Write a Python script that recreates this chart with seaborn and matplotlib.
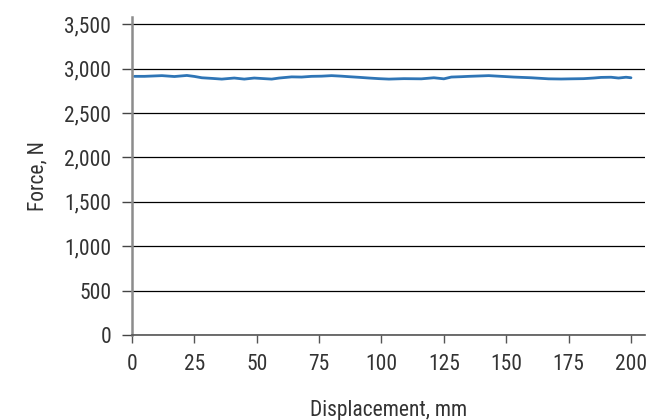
import matplotlib
matplotlib.use("Agg")
import matplotlib.pyplot as plt
import matplotlib.ticker as mticker
import seaborn as sns

# Displacement (mm) and force (N)
displacement = [1, 5, 12, 17, 22, 25, 28, 32, 36, 41, 45, 49, 53, 56, 59, 64,
                68, 72, 76, 80, 84, 87, 91, 95, 99, 103, 109, 116, 121, 125,
                128, 132, 135, 139, 143, 148, 153, 160, 167, 172, 176, 181,
                185, 188, 192, 195, 198, 200]
force = [2912, 2912, 2920, 2910, 2922, 2911, 2896, 2889, 2881, 2893, 2881,
         2893, 2886, 2881, 2893, 2906, 2904, 2912, 2914, 2920, 2914, 2908,
         2901, 2893, 2886, 2881, 2886, 2884, 2896, 2884, 2904, 2908, 2912,
         2916, 2920, 2912, 2904, 2896, 2884, 2882, 2884, 2886, 2893, 2900,
         2902, 2893, 2902, 2896]

x_ticks = [0, 25, 50, 75, 100, 125, 150, 175, 200]
y_ticks = [0, 500, 1000, 1500, 2000, 2500, 3000, 3500]

sns.set_theme(style="white")
plt.rcParams['font.family'] = ['Roboto Condensed', 'Roboto', 'DejaVu Sans']
text_col = "#333333"
fs = 15.5

fig = plt.figure(figsize=(6.46, 4.2), dpi=100)
ax = fig.add_axes([0.2043, 0.2024, 0.7937, 0.7571])

sns.lineplot(x=displacement, y=force, ax=ax, color="#2E75B6", linewidth=2.0)

ax.set_xlim(0, 205.5)
ax.set_ylim(0, 3580)
ax.set_xticks(x_ticks)
ax.set_yticks(y_ticks)
ax.yaxis.set_major_formatter(mticker.StrMethodFormatter('{x:,.0f}'))

ax.grid(axis='y', color='black', linewidth=0.9)
ax.grid(axis='x', visible=False)
ax.set_axisbelow(True)

for s in ['top', 'right']:
    ax.spines[s].set_visible(False)
ax.spines['left'].set_color('#8c8c8c')
ax.spines['left'].set_linewidth(1.8)
ax.spines['bottom'].set_color('#555555')
ax.spines['bottom'].set_linewidth(1.2)

ax.tick_params(axis='y', length=7, width=1, color='#444444', pad=8,
               labelsize=fs, labelcolor=text_col, left=True)
ax.tick_params(axis='x', length=6, width=1, color='#555555', pad=8,
               labelsize=fs, labelcolor=text_col, bottom=True)

ax.set_xlabel("Displacement, mm", fontsize=fs, color=text_col, labelpad=18)
ax.set_ylabel("Force, N", fontsize=fs, color=text_col, labelpad=11)

fig.savefig("out.png", dpi=100)
